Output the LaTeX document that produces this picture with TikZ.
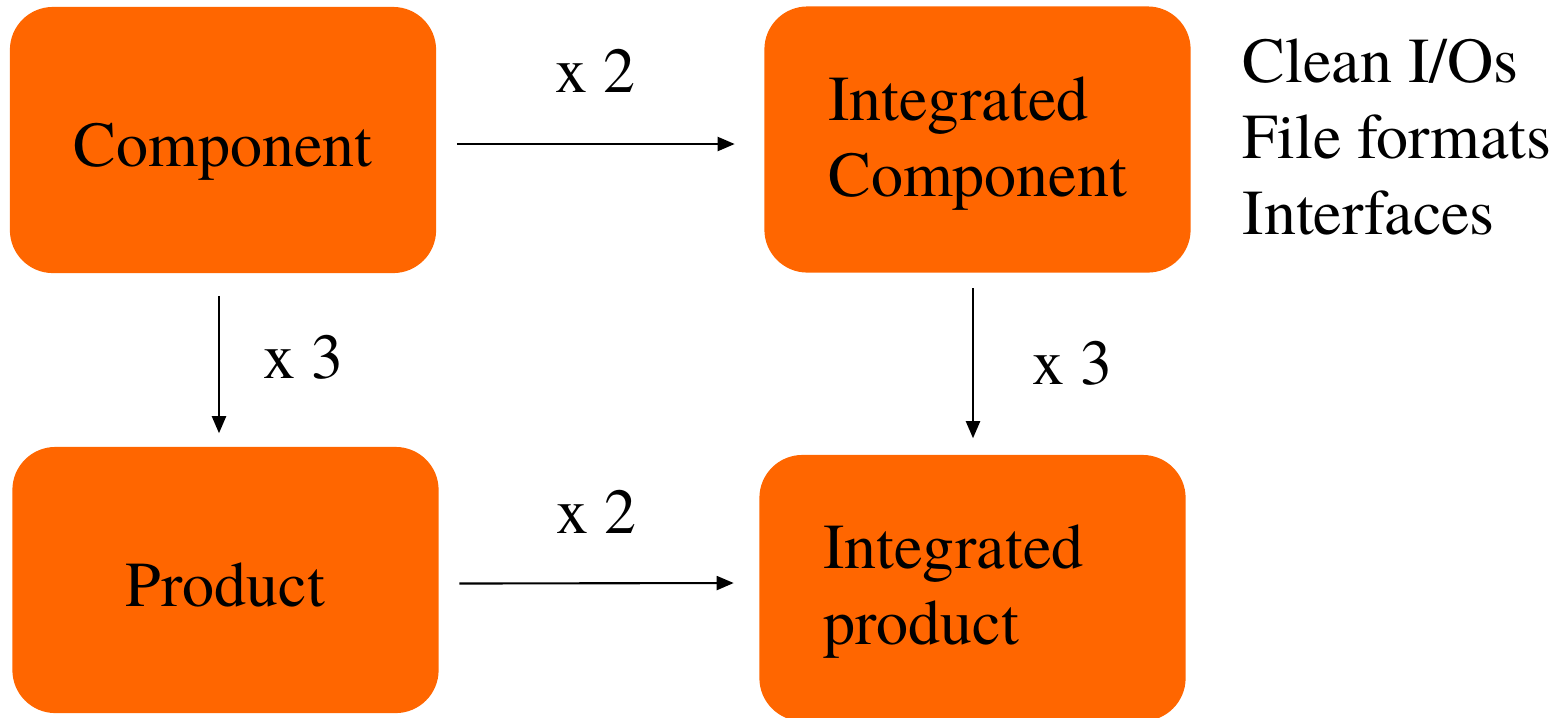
\documentclass[tikz,border=0pt]{standalone}
\usepackage{fontspec}
\setmainfont{texgyretermes}[Extension=.otf,UprightFont=*-regular]
\usepackage{xcolor}
\usepackage{tikz}
\usetikzlibrary{calc,arrows.meta}
\definecolor{boxorange}{RGB}{255,102,0}

\begin{document}
\begin{tikzpicture}[x=0.01cm,y=-0.01cm]
    % `block' is used for the orange rounded boxes with one line.
    % `block two' is a block whose two lines start at the left.
    % `link' is used for the arrows, `count' for their labels.
    \tikzstyle{block base} = [fill=boxorange,rounded corners=0.43cm,minimum width=4.26cm,minimum height=2.66cm,inner sep=0pt,font=\fontsize{18.2pt}{21.6pt}\selectfont]
    \tikzstyle{block} = [block base,text height=0.66cm,text depth=0.14cm]
    \tikzstyle{block two} = [block base,align=left,text width=2.98cm,inner xsep=0.64cm,text depth=0.82cm]
    \tikzstyle{link} = [line width=0.6pt,-{Triangle[length=0.17cm,width=0.14cm]}]
    \tikzstyle{count} = [inner sep=0pt,font=\fontsize{18.2pt}{21.6pt}\selectfont]
    \useasboundingbox (0,0) rectangle (1564,717);
    %
    % Boxes.
    \node[block] (comp) at (223,140) {Component};
    \node[block two] (icomp) at (977.5,139.5) {Integrated\\Component};
    \node[block] (prod) at (225.5,580) {Product};
    \node[block two] (iprod) at (972.5,588) {Integrated\\product};
    % Notes beside the integrated component.
    \node[count,align=left,anchor=north west] (notes) at (1242,38) {Clean I/Os\\File formats\\Interfaces};
    %
    % Draw arrows.
    \draw[link] ($(comp.east)+(20,4)$) -- node[count,above=0.5cm] {x 2} ($(icomp.west)+(-29,4.5)$);
    \draw[link] ($(prod.east)+(20,3.5)$) -- node[count,above=0.49cm] {x 2} ($(iprod.west)+(-25,-5)$);
    \draw[link] ($(comp.south)+(-4,22)$) -- node[count,right=0.43cm,yshift=0.07cm] {x 3} ($(prod.north)+(-6.5,-13)$);
    \draw[link] ($(icomp.south)+(-4.5,15)$) -- node[count,right=0.58cm] {x 3} ($(iprod.north)+(0.5,-16)$);
\end{tikzpicture}
\end{document}
